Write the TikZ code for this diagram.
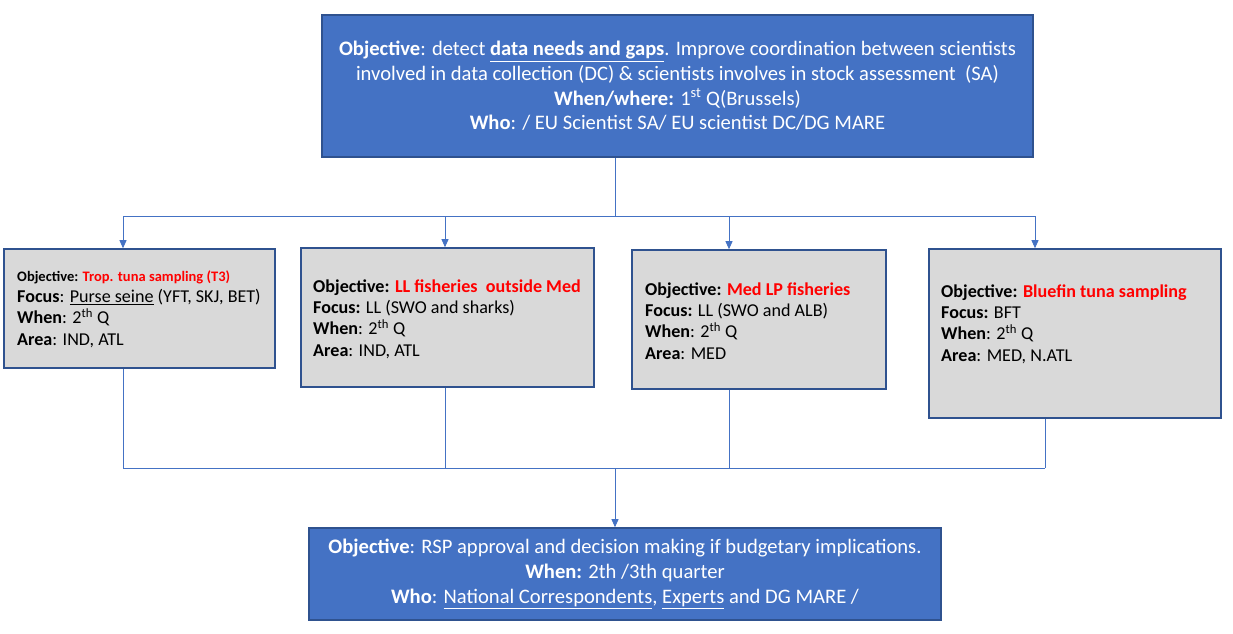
\documentclass[tikz,border=0pt]{standalone}
\usepackage{fontspec}
\setmainfont{Carlito}
\usetikzlibrary{arrows.meta}
\definecolor{boxblue}{HTML}{4472C4}
\definecolor{edgeblue}{HTML}{2F528F}
\definecolor{boxgrey}{HTML}{D9D9D9}
\definecolor{objred}{HTML}{FF0000}
\newcommand{\ul}[1]{\underline{#1}}
\begin{document}
\begin{tikzpicture}[x=1pt,y=-1pt,
  bluebox/.style={draw=edgeblue,line width=1.6pt,fill=boxblue,text=white,inner sep=0pt,align=center,font=\fontsize{20.6}{24.6}\selectfont},
  greybox/.style={draw=edgeblue,line width=1.6pt,fill=boxgrey,inner sep=0pt},
  boxtext/.style={anchor=west,align=left,inner sep=0pt,font=\fontsize{18.1}{21.3}\selectfont},
  conn/.style={draw=boxblue,line width=0.8pt},
  arr/.style={conn,-{Triangle[width=7pt,length=8pt]}}
]
\useasboundingbox (0,0) rectangle (1233,633);
\fill[white] (0,0) rectangle (1233,633);

% top box
\node[bluebox,minimum width=711pt,minimum height=142pt] (top) at (677.5,86) {%
\textbf{Objective}: detect \textbf{\ul{data needs and gaps}}. Improve coordination between scientists\\
involved in data collection (DC) \& scientists involves in stock assessment~~(SA)\\
\textbf{When/where:} 1\textsuperscript{st} Q(Brussels)\\
\textbf{Who}: / EU Scientist SA/ EU scientist DC/DG MARE};

% child boxes
\node[greybox,minimum width=271pt,minimum height=119pt] (b1) at (139.5,308.5) {};
\node[greybox,minimum width=293pt,minimum height=139pt] (b2) at (447.5,317.5) {};
\node[greybox,minimum width=254pt,minimum height=139pt] (b3) at (759,319.5) {};
\node[greybox,minimum width=292pt,minimum height=169pt] (b4) at (1075,333.5) {};

\node[boxtext] (t1) at (17,309) {%
{\fontsize{14.5}{21.3}\selectfont\textbf{Objective: \textcolor{objred}{Trop. tuna sampling (T3)}}}\\
\textbf{Focus}: \ul{Purse seine} (YFT, SKJ, BET)\\
\textbf{When}: 2\textsuperscript{th} Q\\
\textbf{Area}: IND, ATL};
\node[boxtext] (t2) at (313,319) {%
\textbf{Objective: \textcolor{objred}{LL fisheries~~outside Med}}\\
\textbf{Focus:} LL (SWO and sharks)\\
\textbf{When}: 2\textsuperscript{th} Q\\
\textbf{Area}: IND, ATL};
\node[boxtext] (t3) at (645,321) {%
\textbf{Objective: \textcolor{objred}{Med LP fisheries}}\\
\textbf{Focus:} LL (SWO and ALB)\\
\textbf{When}: 2\textsuperscript{th} Q\\
\textbf{Area}: MED};
\node[boxtext] (t4) at (941,324) {%
\textbf{Objective: \textcolor{objred}{Bluefin tuna sampling}}\\
\textbf{Focus:} BFT\\
\textbf{When}: 2\textsuperscript{th} Q\\
\textbf{Area}: MED, N.ATL};

% bottom box
\node[bluebox,minimum width=632pt,minimum height=92pt] (bot) at (625,574) {%
\textbf{Objective}: RSP approval and decision making if budgetary implications.\\
\textbf{When:} 2th /3th quarter\\
\textbf{Who}: \ul{National Correspondents}, \ul{Experts} and DG MARE /};

% connectors top -> children
\coordinate (split) at (615,216);
\coordinate (h1) at (123,216);
\coordinate (h2) at (445,216);
\coordinate (h3) at (729,216);
\coordinate (h4) at (1035,216);
\draw[conn] (top.south -| split) -- (split);
\draw[conn] (h1) -- (h4);
\draw[arr] (h1) -- (h1 |- b1.north);
\draw[arr] (h2) -- (h2 |- b2.north);
\draw[arr] (h3) -- (h3 |- b3.north);
\draw[arr] (h4) -- (h4 |- b4.north);

% connectors children -> bottom
\coordinate (j1) at (123,468);
\coordinate (j2) at (445,468);
\coordinate (j3) at (729,468);
\coordinate (j4) at (1045,468);
\coordinate (merge) at (615,468);
\draw[conn] (j1 |- b1.south) -- (j1);
\draw[conn] (j2 |- b2.south) -- (j2);
\draw[conn] (j3 |- b3.south) -- (j3);
\draw[conn] (j4 |- b4.south) -- (j4);
\draw[conn] (j1) -- (j4);
\draw[arr] (merge) -- (merge |- bot.north);
\end{tikzpicture}
\end{document}
